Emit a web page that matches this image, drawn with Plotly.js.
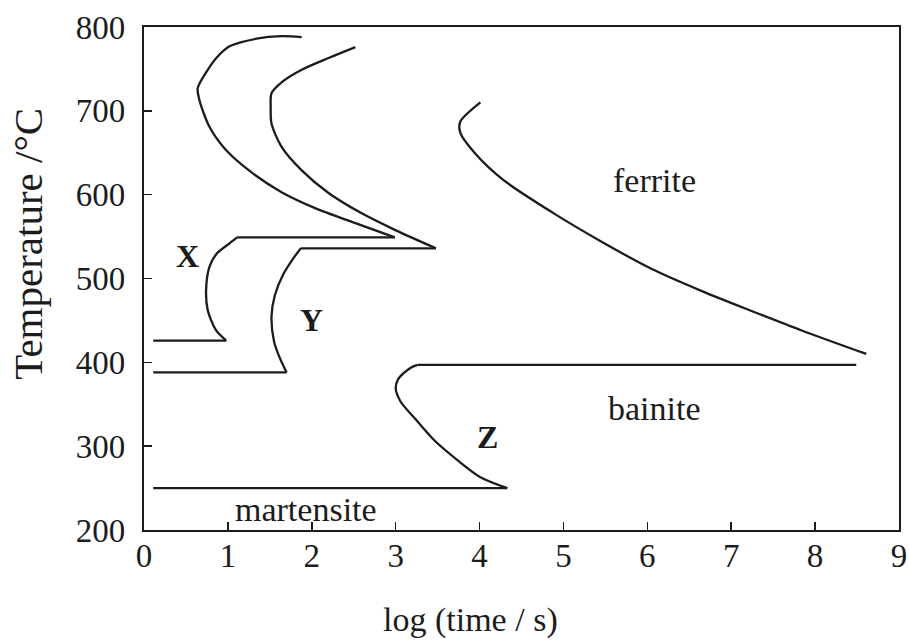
<!DOCTYPE html>
<html>
<head>
<meta charset="utf-8">
<script src="https://cdn.plot.ly/plotly-3.0.1.min.js"></script>
<style>
  html, body { margin: 0; padding: 0; background: #fff; }
  #plot { width: 909px; height: 641px; }
</style>
</head>
<body>
<div id="plot"></div>
<script>
// Isothermal transformation (TTT) curves: log(time / s) against temperature / °C

// Curve X: upper C, nose and lower C
const xUpperTime = [1.88, 1.64, 1.34, 1.02, 0.87, 0.76, 0.64, 0.66, 0.78, 0.98, 1.29, 1.64, 2.04, 2.52, 2.99];
const xUpperTemp = [788, 789, 786, 777, 764, 749, 727, 713, 681, 653, 626, 603, 584, 566, 549];
const xNoseTime  = [2.99, 1.11];
const xNoseTemp  = [549, 549];
const xLowerTime = [1.11, 1.02, 0.87, 0.78, 0.74, 0.76, 0.86, 0.98];
const xLowerTemp = [549, 542, 530, 514, 486, 462, 438, 426];
const xStartTime = [0.98, 0.11];
const xStartTemp = [426, 426];

// Curve Y
const yUpperTime = [2.52, 2.20, 1.88, 1.64, 1.52, 1.51, 1.52, 1.64, 1.88, 2.20, 2.59, 2.99, 3.48];
const yUpperTemp = [776, 763, 749, 734, 721, 705, 685, 657, 629, 602, 578, 558, 536];
const yNoseTime  = [3.48, 1.87];
const yNoseTemp  = [536, 536];
const yLowerTime = [1.87, 1.78, 1.66, 1.56, 1.52, 1.55, 1.62, 1.70];
const yLowerTemp = [536, 524, 505, 480, 455, 425, 405, 388];
const yStartTime = [1.70, 0.11];
const yStartTemp = [388, 388];

// Ferrite start curve
const ferriteTime = [4.01, 3.77, 3.77, 3.94, 4.29, 4.88, 5.47, 6.06, 6.65, 7.25, 7.84, 8.61];
const ferriteTemp = [710, 687, 674, 650, 617, 578, 543, 511, 485, 461, 438, 410];

// Curve Z: bainite start
const zTopTime   = [8.49, 3.26];
const zTopTemp   = [397, 397];
const zCurveTime = [3.26, 3.17, 3.03, 3.00, 3.06, 3.23, 3.46, 3.74, 4.01, 4.33];
const zCurveTemp = [397, 393, 380, 369, 353, 333, 307, 283, 263, 250];
const msTime     = [4.33, 0.11];
const msTemp     = [250, 250];

// Axis ticks
const timeTicks = [0, 1, 2, 3, 4, 5, 6, 7, 8, 9];
const tempTicks = [200, 300, 400, 500, 600, 700, 800];

// Region and curve labels
const labelText = ['X', 'Y', 'Z', 'ferrite', 'bainite', 'martensite'];
const labelTime = [0.52, 2.0, 4.10, 6.08, 6.08, 1.93];
const labelTemp = [527, 450, 311, 617, 345, 224];
const labelBold = [true, true, true, false, false, false];

// Axis titles
const xTitle = 'log (time / s)';
const yTitle = 'Temperature /°C';

const INK = '#1c1c1c';
const SERIF = '"Liberation Serif", "Times New Roman", serif';

function seg(t, T, smooth) {
  return {
    x: t, y: T, type: 'scatter', mode: 'lines',
    line: { color: INK, width: 2.3, shape: smooth ? 'spline' : 'linear', smoothing: 0.8 },
    hoverinfo: 'skip', showlegend: false
  };
}

const traces = [
  seg(xUpperTime, xUpperTemp, true),
  seg(xNoseTime, xNoseTemp, false),
  seg(xLowerTime, xLowerTemp, true),
  seg(xStartTime, xStartTemp, false),
  seg(yUpperTime, yUpperTemp, true),
  seg(yNoseTime, yNoseTemp, false),
  seg(yLowerTime, yLowerTemp, true),
  seg(yStartTime, yStartTemp, false),
  seg(ferriteTime, ferriteTemp, true),
  seg(zTopTime, zTopTemp, false),
  seg(zCurveTime, zCurveTemp, true),
  seg(msTime, msTemp, false)
];

const annotations = labelText.map((s, i) => ({
  x: labelTime[i], y: labelTemp[i], xref: 'x', yref: 'y',
  text: labelBold[i] ? '<b>' + s + '</b>' : s,
  showarrow: false,
  font: { family: SERIF, size: labelBold[i] ? 32 : 34, color: INK }
}));

// Axis titles placed as annotations so they sit off-centre as in the figure
annotations.push({
  xref: 'paper', yref: 'paper', x: 0.433, y: -0.178,
  xanchor: 'center', yanchor: 'middle',
  text: xTitle, showarrow: false,
  font: { family: SERIF, size: 34, color: INK }
});
annotations.push({
  xref: 'paper', yref: 'paper', x: -0.153, y: 0.57,
  xanchor: 'center', yanchor: 'middle', textangle: -90,
  text: yTitle, showarrow: false,
  font: { family: SERIF, size: 41, color: INK }
});

const layout = {
  width: 909, height: 641,
  margin: { l: 144, r: 10, t: 27, b: 111 },
  paper_bgcolor: '#fff', plot_bgcolor: '#fff',
  font: { family: SERIF, color: INK },
  xaxis: {
    range: [0, 9], tickvals: timeTicks, ticktext: timeTicks.map(String),
    ticks: 'inside', ticklen: 8, tickwidth: 1.6, tickcolor: INK,
    showline: true, linecolor: INK, linewidth: 2.2, mirror: true,
    showgrid: false, zeroline: false,
    tickfont: { family: SERIF, size: 33, color: INK },
    ticklabelstandoff: -5, ticklabeloverflow: 'allow'
  },
  yaxis: {
    range: [200, 800], tickvals: tempTicks, ticktext: tempTicks.map(String),
    ticks: 'inside', ticklen: 8, tickwidth: 1.6, tickcolor: INK,
    showline: true, linecolor: INK, linewidth: 2.2, mirror: true,
    showgrid: false, zeroline: false,
    tickfont: { family: SERIF, size: 33, color: INK },
    ticklabelstandoff: 10, ticklabeloverflow: 'allow'
  },
  annotations: annotations
};

Plotly.newPlot('plot', traces, layout, { displayModeBar: false, staticPlot: true });
</script>
</body>
</html>
